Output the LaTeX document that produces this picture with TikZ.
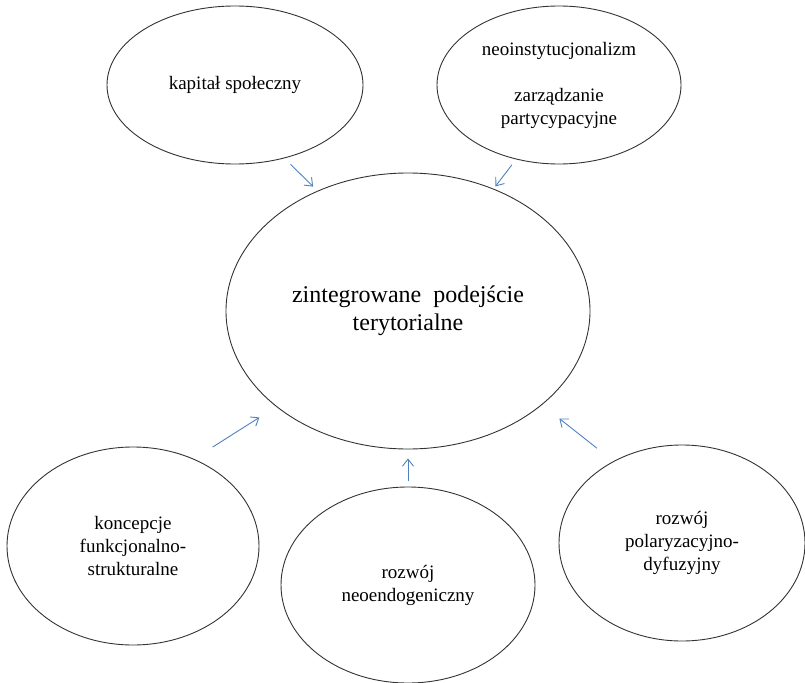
\documentclass[tikz,border=0pt]{standalone}
\usepackage{fontspec}
\setmainfont{Liberation Serif}
\usetikzlibrary{shapes.geometric, arrows.meta}
\definecolor{linkblue}{RGB}{79,129,189}
\tikzset {
    >={Straight Barb[length=7pt,width=11pt]},
    idea/.style={ellipse, draw=black!80, line width=0.9pt, inner sep=0pt,
        align=center, font=\fontsize{19}{23}\selectfont},
    core/.style={idea, font=\fontsize{24}{28}\selectfont},
    link/.style={->, draw=linkblue, line width=0.9pt}
}

\begin{document}
\begin{tikzpicture}[x=1pt, y=-1pt]
    \useasboundingbox (0,0) rectangle (805,682);

    \node[core, minimum width=364pt, minimum height=276pt] (centre) at (408,311)
        {zintegrowane\ \ podejście\\terytorialne};
    \node[idea, minimum width=256pt, minimum height=158pt] (kap) at (235,85)
        {kapitał społeczny};
    \node[idea, minimum width=244pt, minimum height=158pt] (neo) at (559,85)
        {neoinstytucjonalizm\\[23pt]zarządzanie\\partycypacyjne};
    \node[idea, minimum width=252pt, minimum height=198pt] (konc) at (133,546)
        {koncepcje\\funkcjonalno-\\strukturalne};
    \node[idea, minimum width=254pt, minimum height=196pt] (endo) at (408,585)
        {rozwój\\neoendogeniczny};
    \node[idea, minimum width=246pt, minimum height=196pt] (polar) at (682,543)
        {rozwój\\polaryzacyjno-\\dyfuzyjny};

    \draw[link, shorten <=8.5pt, shorten >=6pt] (kap.-56) -- (centre.127);
    \draw[link, shorten <=7pt, shorten >=3pt] (neo.240) -- (centre.55);
    \draw[link, shorten <=22pt, shorten >=20pt] (konc.55) -- (centre.216);
    \draw[link, shorten <=6pt, shorten >=9pt] (endo.90) -- (centre.270);
    \draw[link, shorten <=21pt, shorten >=22pt] (polar.130) -- (centre.-35);
\end{tikzpicture}
\end{document}
